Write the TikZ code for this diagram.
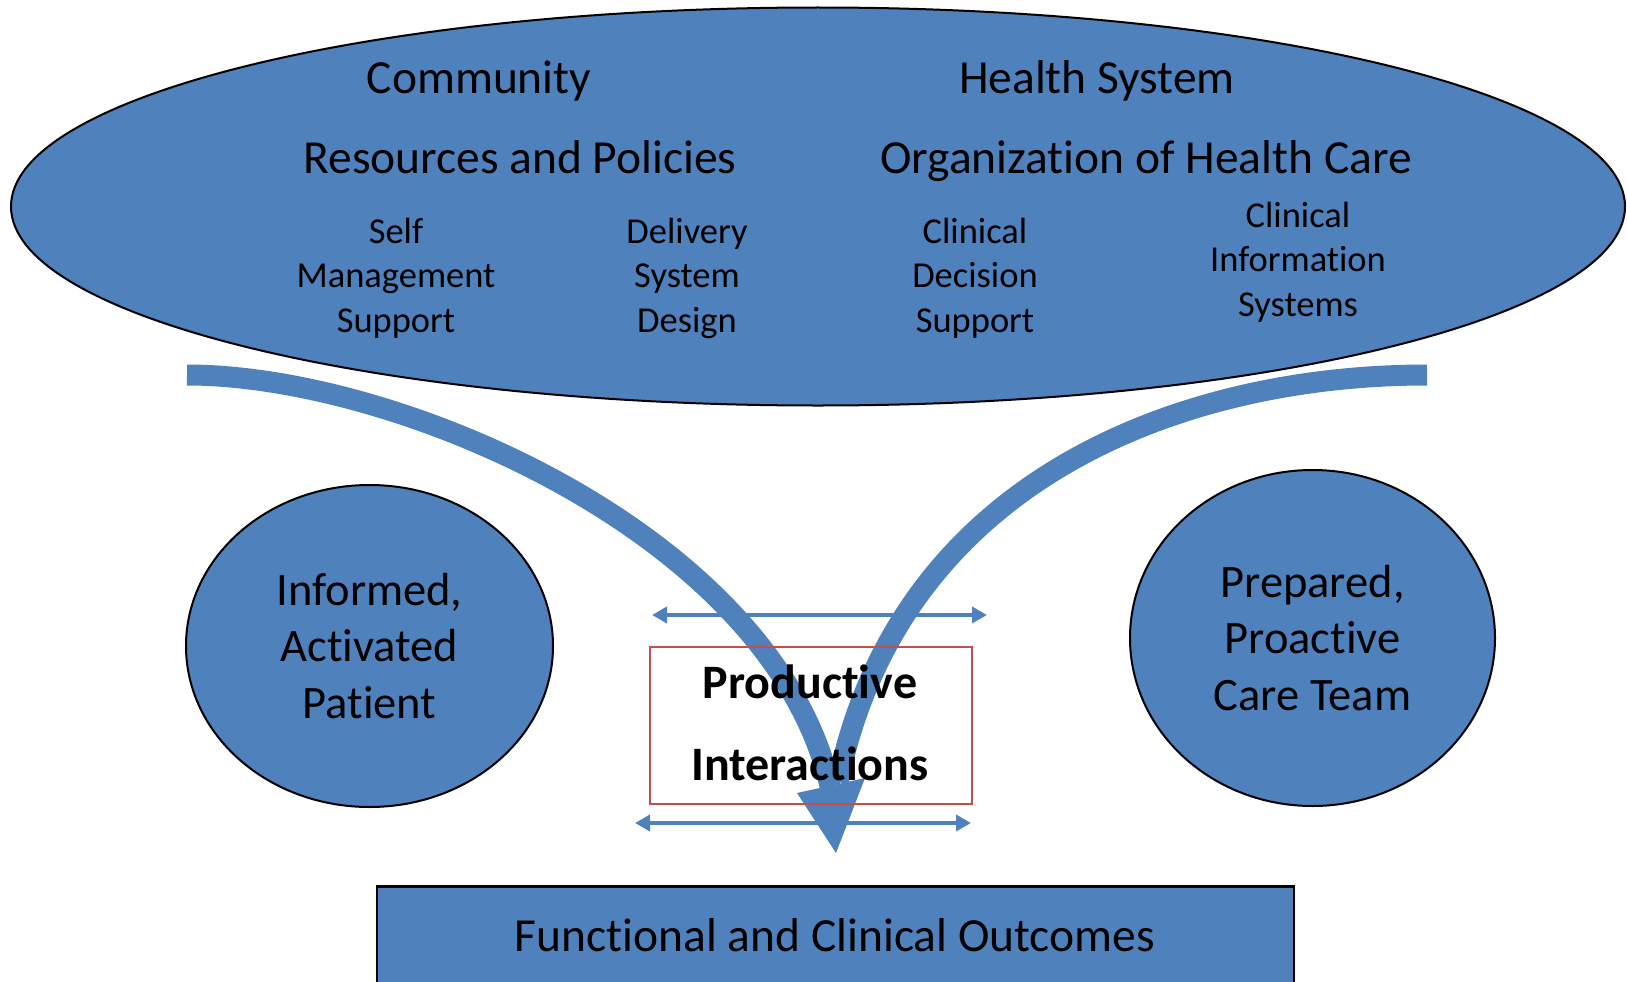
\documentclass[tikz,border=0pt]{standalone}
\usepackage{fontspec}
\setmainfont{Carlito}[Ligatures=NoCommon]
\usetikzlibrary{shapes.geometric,arrows.meta}
\definecolor{obl}{HTML}{4F81BD}
\definecolor{ored}{HTML}{C0504D}
\newcommand{\tiw}{t\kern0pt i}
\begin{document}
\begin{tikzpicture}[x=1pt,y=-1pt,
  blob/.style={ellipse, draw=black, line width=2pt, fill=obl, inner sep=0pt},
  bigtxt/.style={anchor=base, inner sep=0pt, font=\fontsize{47.5}{56}\selectfont},
  smalltxt/.style={inner sep=0pt, align=center, font=\fontsize{36.5}{44.5}\selectfont},
  circtxt/.style={align=center, font=\fontsize{46.5}{56.5}\selectfont},
  vband/.style={draw=obl, line width=21pt},
  dblarrow/.style={draw=obl, line width=4pt, {Triangle[length=15pt,width=16pt]}-{Triangle[length=15pt,width=16pt]}},
]
\useasboundingbox (0,0) rectangle (1627,982);
\clip (0,0) rectangle (1627,982);

% system ellipse
\node[blob, minimum width=1614pt, minimum height=398pt] (sys) at (818,206.5) {};
\node[bigtxt] (comm) at (479,93) {Community};
\node[bigtxt] (hs) at (1097,93) {Health System};
\node[bigtxt] (rp) at (520,173) {Resources and Policies};
\node[bigtxt] (ohc) at (1146,173) {Organiza\tiw on of Health Care};
\node[smalltxt] (sms) at (396,278) {Self\\Management\\Support};
\node[smalltxt] (dsd) at (687,278) {Delivery\\System\\Design};
\node[smalltxt] (cds) at (975,278) {Clinical\\Decision\\Support};
\node[smalltxt] (cis) at (1298,262) {Clinical\\Informa\tiw on\\Systems};

% patient and team
\node[blob, circtxt, minimum width=367pt, minimum height=322pt] (pat) at (369.5,646) {Informed,\\Ac\tiw vated\\Pa\tiw ent};
\node[blob, circtxt, minimum width=365pt, minimum height=336pt] (team) at (1312.5,638) {Prepared,\\Proac\tiw ve\\Care Team};

% converging band arrow
\coordinate (lv0) at (187,375);
\coordinate (lv1) at (830,786);
\coordinate (rv0) at (1427,375);
\coordinate (rv1) at (838,782);
\draw[vband] (lv0) .. controls (400,375) and (772,536) .. (lv1);
\draw[vband] (rv0) .. controls (1180,375) and (900,480) .. (rv1);
\fill[obl] (797,793) -- (865,778) -- (836,853) -- cycle;

% interaction arrows
\coordinate (ua1) at (652,615);
\coordinate (ua2) at (987,615);
\coordinate (la1) at (635,823);
\coordinate (la2) at (971,823);
\draw[dblarrow] (ua1) -- (ua2);
\draw[dblarrow] (la1) -- (la2);

% productive interactions
\node[draw=ored, line width=2pt, minimum width=322pt, minimum height=157pt, inner sep=0pt] (pibox) at (811,725.5) {};
\node[anchor=base, inner sep=0pt, font=\fontsize{48}{56}\selectfont\bfseries] (pi1) at (810,698) {Produc\tiw ve};
\node[anchor=base, inner sep=0pt, font=\fontsize{48}{56}\selectfont\bfseries] (pi2) at (810,780) {Interac\tiw ons};

% outcomes
\node[draw=black, fill=obl, line width=2.5pt, minimum width=917pt, minimum height=160pt, anchor=north, inner sep=0pt] (out) at (835.5,885) {};
\node[bigtxt] (outtxt) at (835,951) {Func\tiw onal and Clinical Outcomes};
\end{tikzpicture}
\end{document}
